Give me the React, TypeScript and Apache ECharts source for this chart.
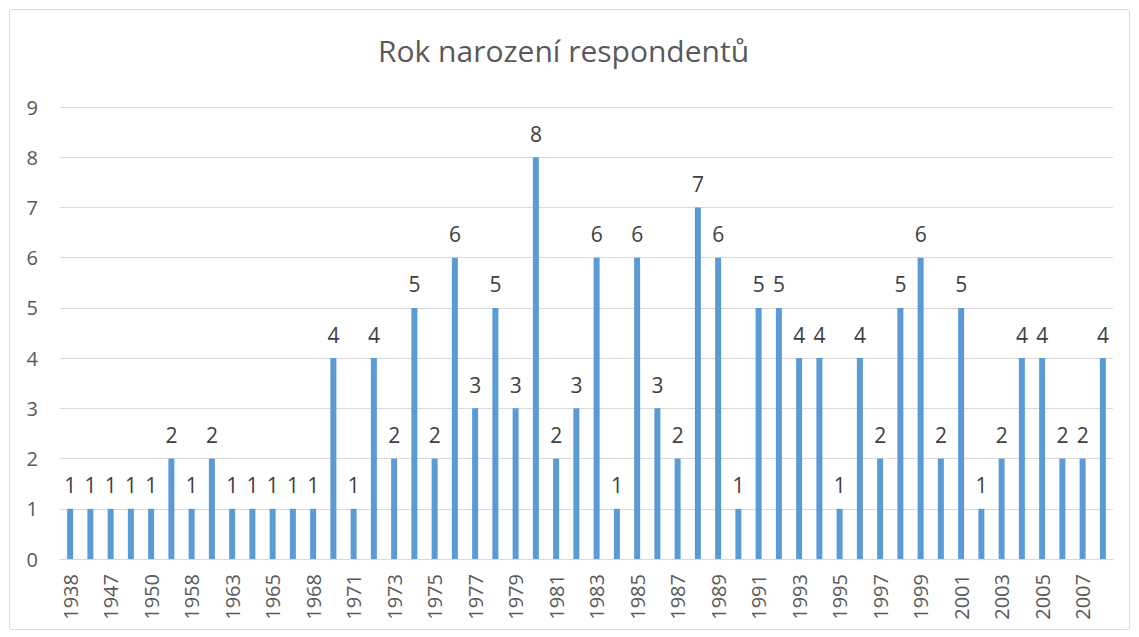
import React, { useEffect, useRef } from "react";
import * as echarts from "echarts";

const years = [
  "1938", "1945", "1947", "1949", "1950", "1955", "1958", "1960", "1963", "1964",
  "1965", "1967", "1968", "1970", "1971", "1972", "1973", "1974", "1975", "1976",
  "1977", "1978", "1979", "1980", "1981", "1982", "1983", "1984", "1985", "1986",
  "1987", "1988", "1989", "1990", "1991", "1992", "1993", "1994", "1995", "1996",
  "1997", "1998", "1999", "2000", "2001", "2002", "2003", "2004", "2005", "2006",
  "2007", "2008",
];

const counts = [
  1, 1, 1, 1, 1, 2, 1, 2, 1, 1,
  1, 1, 1, 4, 1, 4, 2, 5, 2, 6,
  3, 5, 3, 8, 2, 3, 6, 1, 6, 3,
  2, 7, 6, 1, 5, 5, 4, 4, 1, 4,
  2, 5, 6, 2, 5, 1, 2, 4, 4, 2,
  2, 4,
];

const titleText = "Rok narození respondentů";
const FONT = "'Open Sans', 'Noto Sans', sans-serif";

export default function App() {
  const ref = useRef<HTMLDivElement>(null);
  useEffect(() => {
    if (!ref.current) return;
    const chart = echarts.init(ref.current, null, { renderer: "svg" });
    chart.setOption({
      animation: false,
      backgroundColor: "#ffffff",
      textStyle: { fontFamily: FONT },
      title: {
        text: titleText,
        left: 373,
        top: 30,
        textStyle: { fontFamily: FONT, fontSize: 30, fontWeight: "normal", color: "#595959" },
      },
      graphic: [
        {
          type: "rect",
          shape: { x: 9.5, y: 9.5, width: 1120, height: 620, r: 2 },
          style: { fill: "none", stroke: "#D9D9D9", lineWidth: 1 },
          silent: true,
        },
      ],
      grid: { left: 60, right: 26, top: 107, bottom: 78, containLabel: false },
      xAxis: {
        type: "category",
        data: years,
        axisLine: { show: true, lineStyle: { color: "#D9D9D9", width: 1 } },
        axisTick: { show: false },
        axisLabel: {
          interval: 1,
          rotate: 90,
          color: "#595959",
          fontSize: 20,
          fontFamily: FONT,
          margin: 15,
        },
      },
      yAxis: {
        type: "value",
        min: 0,
        max: 9,
        interval: 1,
        axisLine: { show: false },
        axisTick: { show: false },
        splitLine: { lineStyle: { color: "#D9D9D9", width: 1 } },
        axisLabel: { color: "#595959", fontSize: 20, fontFamily: FONT, margin: 22 },
      },
      series: [
        {
          type: "bar",
          data: counts,
          barWidth: 6,
          itemStyle: { color: "#5B9BD5" },
          label: {
            show: true,
            position: "top",
            distance: 13,
            color: "#404040",
            fontSize: 21,
            fontFamily: FONT,
          },
        },
      ],
    });
    return () => chart.dispose();
  }, []);
  return (
    <div
      ref={ref}
      style={{ position: "fixed", left: 0, top: 0, width: 1139, height: 637 }}
    />
  );
}
